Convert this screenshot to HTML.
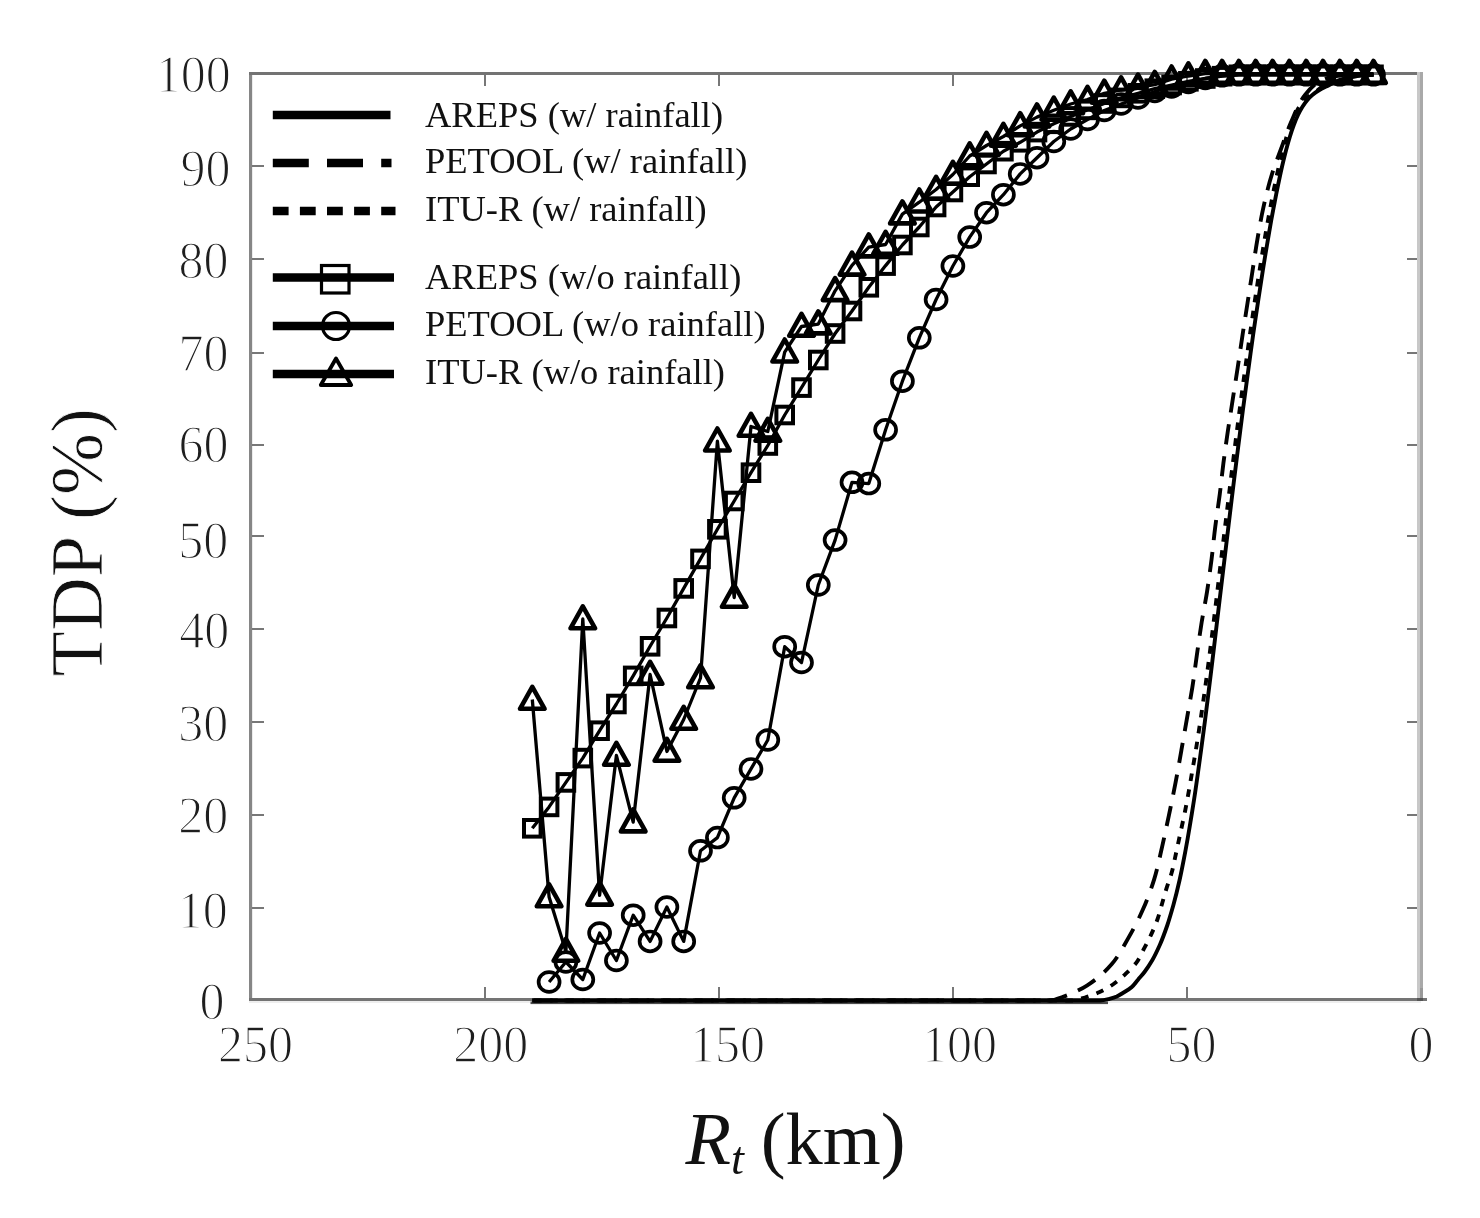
<!DOCTYPE html>
<html><head><meta charset="utf-8"><title>TDP vs Rt</title>
<style>html,body{margin:0;padding:0;background:#fff;}svg{display:block;filter:grayscale(1);}text{font-family:"Liberation Serif",serif;}</style>
</head><body>
<svg width="1480" height="1218" viewBox="0 0 1480 1218">
<rect x="0" y="0" width="1480" height="1218" fill="#fff"/>
<g shape-rendering="crispEdges">
<rect x="249" y="72" width="3" height="929" fill="#868686"/>
<rect x="252" y="75" width="1" height="923" fill="#ececec"/>
<rect x="249" y="72" width="1174" height="3" fill="#737373"/>
<rect x="249" y="998" width="1178" height="3" fill="#747474"/>
<rect x="249" y="1001" width="1172" height="2" fill="#eeeeee"/>
<rect x="1417" y="72" width="3" height="926" fill="#c8c8c8"/>
<rect x="1420" y="72" width="3" height="926" fill="#a9a9a9"/>
<rect x="1420" y="988" width="3" height="10" fill="#999"/>
<rect x="1417" y="998" width="6" height="3" fill="#555"/>
<rect x="252" y="907" width="12" height="2" fill="#777"/>
<rect x="1407" y="907" width="10" height="2" fill="#777"/>
<rect x="252" y="814" width="12" height="2" fill="#777"/>
<rect x="1407" y="814" width="10" height="2" fill="#777"/>
<rect x="252" y="721" width="12" height="2" fill="#777"/>
<rect x="1407" y="721" width="10" height="2" fill="#777"/>
<rect x="252" y="628" width="12" height="2" fill="#777"/>
<rect x="1407" y="628" width="10" height="2" fill="#777"/>
<rect x="252" y="535" width="12" height="2" fill="#777"/>
<rect x="1407" y="535" width="10" height="2" fill="#777"/>
<rect x="252" y="444" width="12" height="2" fill="#777"/>
<rect x="1407" y="444" width="10" height="2" fill="#777"/>
<rect x="252" y="352" width="12" height="2" fill="#777"/>
<rect x="1407" y="352" width="10" height="2" fill="#777"/>
<rect x="252" y="258" width="12" height="2" fill="#777"/>
<rect x="1407" y="258" width="10" height="2" fill="#777"/>
<rect x="252" y="165" width="12" height="2" fill="#777"/>
<rect x="1407" y="165" width="10" height="2" fill="#777"/>
<rect x="484" y="987" width="2" height="11" fill="#777"/>
<rect x="484" y="75" width="2" height="11" fill="#777"/>
<rect x="718" y="987" width="2" height="11" fill="#777"/>
<rect x="718" y="75" width="2" height="11" fill="#777"/>
<rect x="952" y="987" width="2" height="11" fill="#777"/>
<rect x="952" y="75" width="2" height="11" fill="#777"/>
<rect x="1186" y="987" width="2" height="11" fill="#777"/>
<rect x="1186" y="75" width="2" height="11" fill="#777"/>
</g>
<g fill="#1e1e1e" font-size="50" text-anchor="end" stroke="#fff" stroke-width="1.3">
<text transform="translate(224.6,1018.5) scale(1,1.070)">0</text>
<text transform="translate(227.8,928.1) scale(1,1.070)">10</text>
<text transform="translate(228.3,832.6) scale(1,1.070)">20</text>
<text transform="translate(228.2,741.2) scale(1,1.070)">30</text>
<text transform="translate(229.2,648.4) scale(1,1.070)">40</text>
<text transform="translate(228.2,557.6) scale(1,1.070)">50</text>
<text transform="translate(228.4,462.1) scale(1,1.070)">60</text>
<text transform="translate(228.4,371.3) scale(1,1.070)">70</text>
<text transform="translate(228.4,278.4) scale(1,1.070)">80</text>
<text transform="translate(230.6,185.5) scale(1,1.070)">90</text>
<text transform="translate(230.8,92.3) scale(1,1.070)">100</text>
</g>
<g fill="#1e1e1e" font-size="50" text-anchor="middle" stroke="#fff" stroke-width="1.3">
<text transform="translate(255.5,1062.4) scale(1,1.070)">250</text>
<text transform="translate(490.7,1062.4) scale(1,1.070)">200</text>
<text transform="translate(727.5,1062.4) scale(1,1.070)">150</text>
<text transform="translate(959.5,1062.4) scale(1,1.070)">100</text>
<text transform="translate(1191.5,1062.4) scale(1,1.070)">50</text>
<text transform="translate(1421.0,1062.4) scale(1,1.070)">0</text>
</g>
<text fill="#111" stroke="#fff" stroke-width="0.8" font-size="74.5" transform="translate(102.4,676.5) rotate(-90)">TDP (%)</text>
<text fill="#111" font-size="74.5" x="685.5" y="1164" font-style="italic">R</text>
<text fill="#111" font-size="46.5" x="731" y="1174" font-style="italic">t</text>
<text fill="#111" font-size="74.5" x="760.7" y="1164">(km)</text>
<rect x="530.5" y="1001.5" width="577.5" height="2.6" fill="#4d4d4d"/>
<g fill="none" stroke="#000" stroke-width="3.9" stroke-linejoin="round">
<path d="M532.3,1000.5 L1100.0,1000.5 C1103.0,1000.5 1106.1,999.7 1109.0,999.0 C1111.6,998.3 1114.3,997.6 1116.8,996.5 C1118.9,995.5 1120.8,994.2 1122.8,993.0 C1125.9,991.1 1129.2,989.4 1131.8,987.0 C1134.1,985.0 1135.8,982.3 1137.8,980.0 C1140.0,977.3 1142.4,974.8 1144.5,972.0 C1147.4,968.2 1150.0,964.1 1152.4,960.0 C1155.2,955.2 1157.5,950.1 1159.8,945.0 C1162.7,938.5 1165.1,931.7 1167.4,925.0 C1169.6,918.4 1171.5,911.7 1173.4,905.0 C1175.7,896.7 1177.7,888.4 1179.6,880.0 C1181.8,870.1 1183.7,860.0 1185.6,850.0 C1188.7,833.4 1191.4,816.7 1194.0,800.0 C1196.6,783.4 1198.8,766.7 1201.1,750.0 C1203.4,733.3 1205.5,716.7 1207.6,700.0 C1209.7,683.3 1211.7,666.7 1213.7,650.0 C1215.7,633.3 1217.6,616.7 1219.6,600.0 C1221.6,583.3 1223.6,566.7 1225.6,550.0 C1227.6,533.3 1229.6,516.7 1231.6,500.0 C1233.6,483.3 1235.7,466.7 1237.8,450.0 C1239.5,436.7 1241.2,423.3 1242.9,410.0 C1244.7,396.7 1246.5,383.3 1248.3,370.0 C1249.9,358.3 1251.4,346.7 1253.1,335.0 C1254.8,323.3 1256.5,311.7 1258.3,300.0 C1259.8,290.0 1261.3,280.0 1262.9,270.0 C1264.2,261.7 1265.6,253.3 1267.0,245.0 C1268.4,236.7 1269.8,228.3 1271.3,220.0 C1272.5,213.3 1273.8,206.7 1275.1,200.0 C1276.3,194.0 1277.4,188.0 1278.7,182.0 C1279.9,176.3 1281.1,170.6 1282.4,165.0 C1283.6,160.0 1284.8,155.0 1286.1,150.0 C1287.3,145.6 1288.5,141.3 1289.8,137.0 C1291.0,133.0 1292.3,128.9 1293.8,125.0 C1295.1,121.6 1296.4,118.3 1298.0,115.0 C1299.3,112.3 1300.7,109.6 1302.3,107.0 C1303.8,104.6 1305.5,102.2 1307.4,100.0 C1308.9,98.2 1310.5,96.5 1312.3,95.0 C1314.5,93.1 1316.9,91.5 1319.4,90.0 C1321.6,88.7 1323.9,87.7 1326.2,86.6 C1330.2,84.6 1333.9,82.1 1338.0,80.5 C1343.4,78.4 1349.3,77.4 1355.0,76.5 C1361.1,75.5 1367.3,75.4 1373.5,74.8"/>
<path d="M532.3,1000.5 L1050.0,1000.5 C1054.3,1000.5 1058.8,998.3 1063.0,996.8 C1071.4,993.9 1079.8,990.1 1087.3,985.3 C1096.3,979.6 1104.7,972.3 1111.6,964.3 C1118.5,956.3 1123.4,946.6 1128.7,937.4 C1133.9,928.2 1138.9,918.8 1143.1,909.1 C1147.4,899.3 1151.2,889.1 1154.3,878.9 C1157.6,868.2 1159.7,857.2 1162.2,846.3 C1164.6,836.0 1166.7,825.6 1168.9,815.3 C1171.2,804.5 1173.4,793.7 1175.5,782.8 C1177.6,772.0 1179.5,761.1 1181.4,750.2 C1183.2,739.9 1185.0,729.7 1186.8,719.4 C1188.6,708.8 1190.6,698.2 1192.3,687.6 C1194.0,676.9 1195.3,666.2 1196.8,655.5 C1198.4,644.3 1199.9,633.1 1201.7,622.0 C1203.4,611.8 1205.5,601.6 1207.1,591.4 C1208.8,580.6 1210.2,569.7 1211.6,558.9 C1213.0,548.1 1213.9,537.2 1215.3,526.4 C1216.7,515.6 1218.4,504.8 1219.8,494.0 C1221.1,483.8 1222.1,473.5 1223.4,463.3 C1224.8,452.5 1226.3,441.6 1227.9,430.8 C1229.5,420.2 1231.2,409.6 1232.8,399.0 C1234.4,388.5 1236.1,378.0 1237.7,367.5 C1239.4,356.3 1241.0,345.2 1242.7,334.0 C1244.3,323.5 1246.0,313.0 1247.6,302.5 C1249.2,292.0 1250.9,281.5 1252.5,271.0 C1254.1,260.5 1255.6,249.9 1257.4,239.4 C1259.2,228.9 1261.0,218.3 1263.3,207.9 C1265.8,196.5 1268.5,185.1 1272.0,174.0 C1274.7,165.6 1277.9,157.3 1281.0,149.0 C1284.3,140.1 1287.2,131.1 1291.0,122.4 C1295.1,113.0 1298.6,102.9 1305.0,95.0 C1309.2,89.8 1314.2,84.2 1320.0,81.0 C1325.9,77.7 1333.2,76.7 1340.0,75.5 C1350.9,73.6 1362.3,75.0 1373.5,74.8" stroke-dasharray="20.3 11.9"/>
<path d="M532.3,1000.5 L1072.0,1000.5 C1076.3,1000.5 1080.7,998.8 1085.0,997.5 C1089.8,996.1 1094.6,994.4 1099.1,992.3 C1104.1,990.0 1109.1,987.2 1113.6,984.0 C1117.8,981.1 1121.7,977.6 1125.4,974.1 C1129.3,970.4 1133.4,966.6 1136.6,962.3 C1139.8,957.9 1141.9,952.7 1144.4,947.9 C1146.9,943.1 1149.5,938.3 1151.7,933.4 C1153.8,928.7 1155.9,923.9 1157.6,919.0 C1159.4,913.8 1160.7,908.5 1162.2,903.2 C1163.7,897.9 1165.2,892.6 1166.8,887.4 C1168.4,882.3 1170.4,877.4 1171.8,872.3 C1173.2,867.1 1174.2,861.8 1175.3,856.6 C1176.4,851.5 1177.5,846.4 1178.6,841.3 C1180.8,830.9 1183.2,820.5 1185.3,810.0 C1187.9,797.0 1190.1,783.9 1192.3,770.8 C1194.8,756.6 1197.2,742.4 1199.3,728.1 C1201.5,713.9 1203.5,699.6 1205.5,685.4 C1207.4,671.2 1209.3,656.9 1211.1,642.7 C1213.6,622.6 1216.0,602.5 1218.4,582.4 C1220.6,564.3 1222.7,546.3 1224.9,528.2 C1227.1,510.2 1229.3,492.1 1231.5,474.1 C1233.7,456.7 1235.8,439.2 1238.1,421.8 C1240.0,407.0 1242.0,392.1 1244.0,377.3 C1246.7,357.6 1249.4,337.9 1252.3,318.2 C1254.7,301.8 1257.1,285.4 1259.8,269.0 C1261.9,255.9 1264.0,242.7 1266.3,229.6 C1268.0,220.4 1269.6,211.2 1271.4,202.0 C1273.2,193.0 1274.9,184.0 1276.9,175.0 C1279.1,165.1 1281.3,155.1 1284.1,145.4 C1286.3,137.7 1288.4,129.8 1291.6,122.4 C1294.8,115.0 1298.1,107.0 1303.4,101.0 C1308.0,95.8 1315.1,92.8 1320.4,88.0 C1323.0,85.6 1325.1,82.4 1328.0,80.5 C1332.2,77.7 1337.9,77.1 1343.0,76.0 C1352.9,73.9 1363.3,75.2 1373.5,74.8" stroke-dasharray="7.6 8.5" stroke-dashoffset="-1.7"/>
</g>
<g fill="none" stroke="#000" stroke-width="3.3" stroke-linejoin="round">
<polyline points="532.3,828.3 549.1,806.9 565.9,782.4 582.8,758.1 599.6,730.7 616.4,704.0 633.2,675.9 650.1,646.3 666.9,618.0 683.7,588.4 700.5,558.9 717.4,529.3 734.2,501.0 751.0,472.7 767.8,445.5 784.7,415.0 801.5,387.6 818.3,360.0 835.1,333.5 852.0,311.0 868.8,287.3 885.6,265.6 902.4,245.0 919.3,227.0 936.1,207.0 952.9,192.0 969.7,176.7 986.5,164.0 1003.4,151.2 1020.2,142.3 1037.0,132.1 1053.8,123.8 1070.7,116.4 1087.5,109.9 1104.3,103.5 1121.1,97.9 1138.0,93.3 1154.8,88.7 1171.6,85.0 1188.4,81.3 1205.3,78.5 1222.1,76.2 1238.9,74.8 1255.7,74.8 1272.6,74.8 1289.4,74.8 1306.2,74.8 1323.0,74.8 1339.9,74.8 1356.7,74.8 1373.5,74.8"/>
<polyline points="549.1,982.0 565.9,962.0 582.8,979.5 599.6,933.0 616.4,960.5 633.2,915.2 650.1,941.4 666.9,907.0 683.7,941.4 700.5,850.8 717.4,837.6 734.2,797.8 751.0,768.9 767.8,740.0 784.7,646.7 801.5,662.5 818.3,585.0 835.1,540.1 852.0,482.3 868.8,483.6 885.6,429.8 902.4,381.2 919.3,337.8 936.1,299.5 952.9,266.0 969.7,237.1 986.5,212.7 1003.4,194.7 1020.2,173.9 1037.0,157.7 1053.8,141.5 1070.7,129.0 1087.5,119.5 1104.3,110.5 1121.1,104.0 1138.0,98.0 1154.8,91.5 1171.6,87.0 1188.4,82.5 1205.3,78.5 1222.1,75.8 1238.9,74.8 1255.7,74.8 1272.6,74.8 1289.4,74.8 1306.2,74.8 1323.0,74.8 1339.9,74.8 1356.7,74.8 1373.5,74.8"/>
<polyline points="532.3,699.5 549.1,897.0 565.9,951.5 582.8,619.0 599.6,895.3 616.4,755.5 633.2,822.1 650.1,674.5 666.9,751.5 683.7,719.5 700.5,678.0 717.4,441.2 734.2,597.5 751.0,426.5 767.8,431.5 784.7,352.2 801.5,326.5 818.3,324.1 835.1,290.8 852.0,265.3 868.8,247.1 885.6,244.5 902.4,214.1 919.3,202.2 936.1,189.5 952.9,174.5 969.7,156.0 986.5,145.5 1003.4,136.5 1020.2,125.9 1037.0,117.1 1053.8,110.3 1070.7,104.0 1087.5,99.5 1104.3,93.4 1121.1,90.0 1138.0,87.3 1154.8,84.6 1171.6,79.2 1188.4,76.0 1205.3,73.6 1222.1,73.6 1238.9,73.6 1255.7,73.6 1272.6,73.6 1289.4,73.6 1306.2,73.6 1323.0,73.6 1339.9,73.6 1356.7,73.6 1373.5,73.6"/>
</g>
<g fill="none" stroke="#000" stroke-width="4.0">
<rect x="524.0" y="820.0" width="16.6" height="16.6"/>
<rect x="540.8" y="798.6" width="16.6" height="16.6"/>
<rect x="557.6" y="774.1" width="16.6" height="16.6"/>
<rect x="574.5" y="749.8" width="16.6" height="16.6"/>
<rect x="591.3" y="722.4" width="16.6" height="16.6"/>
<rect x="608.1" y="695.7" width="16.6" height="16.6"/>
<rect x="624.9" y="667.6" width="16.6" height="16.6"/>
<rect x="641.8" y="638.0" width="16.6" height="16.6"/>
<rect x="658.6" y="609.7" width="16.6" height="16.6"/>
<rect x="675.4" y="580.1" width="16.6" height="16.6"/>
<rect x="692.2" y="550.6" width="16.6" height="16.6"/>
<rect x="709.1" y="521.0" width="16.6" height="16.6"/>
<rect x="725.9" y="492.7" width="16.6" height="16.6"/>
<rect x="742.7" y="464.4" width="16.6" height="16.6"/>
<rect x="759.5" y="437.2" width="16.6" height="16.6"/>
<rect x="776.4" y="406.7" width="16.6" height="16.6"/>
<rect x="793.2" y="379.3" width="16.6" height="16.6"/>
<rect x="810.0" y="351.7" width="16.6" height="16.6"/>
<rect x="826.8" y="325.2" width="16.6" height="16.6"/>
<rect x="843.7" y="302.7" width="16.6" height="16.6"/>
<rect x="860.5" y="279.0" width="16.6" height="16.6"/>
<rect x="877.3" y="257.3" width="16.6" height="16.6"/>
<rect x="894.1" y="236.7" width="16.6" height="16.6"/>
<rect x="911.0" y="218.7" width="16.6" height="16.6"/>
<rect x="927.8" y="198.7" width="16.6" height="16.6"/>
<rect x="944.6" y="183.7" width="16.6" height="16.6"/>
<rect x="961.4" y="168.4" width="16.6" height="16.6"/>
<rect x="978.2" y="155.7" width="16.6" height="16.6"/>
<rect x="995.1" y="142.9" width="16.6" height="16.6"/>
<rect x="1011.9" y="134.0" width="16.6" height="16.6"/>
<rect x="1028.7" y="123.8" width="16.6" height="16.6"/>
<rect x="1045.5" y="115.5" width="16.6" height="16.6"/>
<rect x="1062.4" y="108.1" width="16.6" height="16.6"/>
<rect x="1079.2" y="101.6" width="16.6" height="16.6"/>
<rect x="1096.0" y="95.2" width="16.6" height="16.6"/>
<rect x="1112.8" y="89.6" width="16.6" height="16.6"/>
<rect x="1129.7" y="85.0" width="16.6" height="16.6"/>
<rect x="1146.5" y="80.4" width="16.6" height="16.6"/>
<rect x="1163.3" y="76.7" width="16.6" height="16.6"/>
<rect x="1180.1" y="73.0" width="16.6" height="16.6"/>
<rect x="1197.0" y="70.2" width="16.6" height="16.6"/>
<rect x="1213.8" y="67.9" width="16.6" height="16.6"/>
<rect x="1230.6" y="66.5" width="16.6" height="16.6"/>
<rect x="1247.4" y="66.5" width="16.6" height="16.6"/>
<rect x="1264.3" y="66.5" width="16.6" height="16.6"/>
<rect x="1281.1" y="66.5" width="16.6" height="16.6"/>
<rect x="1297.9" y="66.5" width="16.6" height="16.6"/>
<rect x="1314.7" y="66.5" width="16.6" height="16.6"/>
<rect x="1331.6" y="66.5" width="16.6" height="16.6"/>
<rect x="1348.4" y="66.5" width="16.6" height="16.6"/>
<rect x="1365.2" y="66.5" width="16.6" height="16.6"/>
</g>
<g fill="none" stroke="#000" stroke-width="3.7">
<ellipse cx="549.1" cy="982.0" rx="10.5" ry="9.9"/>
<ellipse cx="565.9" cy="962.0" rx="10.5" ry="9.9"/>
<ellipse cx="582.8" cy="979.5" rx="10.5" ry="9.9"/>
<ellipse cx="599.6" cy="933.0" rx="10.5" ry="9.9"/>
<ellipse cx="616.4" cy="960.5" rx="10.5" ry="9.9"/>
<ellipse cx="633.2" cy="915.2" rx="10.5" ry="9.9"/>
<ellipse cx="650.1" cy="941.4" rx="10.5" ry="9.9"/>
<ellipse cx="666.9" cy="907.0" rx="10.5" ry="9.9"/>
<ellipse cx="683.7" cy="941.4" rx="10.5" ry="9.9"/>
<ellipse cx="700.5" cy="850.8" rx="10.5" ry="9.9"/>
<ellipse cx="717.4" cy="837.6" rx="10.5" ry="9.9"/>
<ellipse cx="734.2" cy="797.8" rx="10.5" ry="9.9"/>
<ellipse cx="751.0" cy="768.9" rx="10.5" ry="9.9"/>
<ellipse cx="767.8" cy="740.0" rx="10.5" ry="9.9"/>
<ellipse cx="784.7" cy="646.7" rx="10.5" ry="9.9"/>
<ellipse cx="801.5" cy="662.5" rx="10.5" ry="9.9"/>
<ellipse cx="818.3" cy="585.0" rx="10.5" ry="9.9"/>
<ellipse cx="835.1" cy="540.1" rx="10.5" ry="9.9"/>
<ellipse cx="852.0" cy="482.3" rx="10.5" ry="9.9"/>
<ellipse cx="868.8" cy="483.6" rx="10.5" ry="9.9"/>
<ellipse cx="885.6" cy="429.8" rx="10.5" ry="9.9"/>
<ellipse cx="902.4" cy="381.2" rx="10.5" ry="9.9"/>
<ellipse cx="919.3" cy="337.8" rx="10.5" ry="9.9"/>
<ellipse cx="936.1" cy="299.5" rx="10.5" ry="9.9"/>
<ellipse cx="952.9" cy="266.0" rx="10.5" ry="9.9"/>
<ellipse cx="969.7" cy="237.1" rx="10.5" ry="9.9"/>
<ellipse cx="986.5" cy="212.7" rx="10.5" ry="9.9"/>
<ellipse cx="1003.4" cy="194.7" rx="10.5" ry="9.9"/>
<ellipse cx="1020.2" cy="173.9" rx="10.5" ry="9.9"/>
<ellipse cx="1037.0" cy="157.7" rx="10.5" ry="9.9"/>
<ellipse cx="1053.8" cy="141.5" rx="10.5" ry="9.9"/>
<ellipse cx="1070.7" cy="129.0" rx="10.5" ry="9.9"/>
<ellipse cx="1087.5" cy="119.5" rx="10.5" ry="9.9"/>
<ellipse cx="1104.3" cy="110.5" rx="10.5" ry="9.9"/>
<ellipse cx="1121.1" cy="104.0" rx="10.5" ry="9.9"/>
<ellipse cx="1138.0" cy="98.0" rx="10.5" ry="9.9"/>
<ellipse cx="1154.8" cy="91.5" rx="10.5" ry="9.9"/>
<ellipse cx="1171.6" cy="87.0" rx="10.5" ry="9.9"/>
<ellipse cx="1188.4" cy="82.5" rx="10.5" ry="9.9"/>
<ellipse cx="1205.3" cy="78.5" rx="10.5" ry="9.9"/>
<ellipse cx="1222.1" cy="75.8" rx="10.5" ry="9.9"/>
<ellipse cx="1238.9" cy="74.8" rx="10.5" ry="9.9"/>
<ellipse cx="1255.7" cy="74.8" rx="10.5" ry="9.9"/>
<ellipse cx="1272.6" cy="74.8" rx="10.5" ry="9.9"/>
<ellipse cx="1289.4" cy="74.8" rx="10.5" ry="9.9"/>
<ellipse cx="1306.2" cy="74.8" rx="10.5" ry="9.9"/>
<ellipse cx="1323.0" cy="74.8" rx="10.5" ry="9.9"/>
<ellipse cx="1339.9" cy="74.8" rx="10.5" ry="9.9"/>
<ellipse cx="1356.7" cy="74.8" rx="10.5" ry="9.9"/>
<ellipse cx="1373.5" cy="74.8" rx="10.5" ry="9.9"/>
</g>
<g fill="none" stroke="#000" stroke-width="4.6" stroke-linejoin="round">
<path d="M532.3,686.8 L544.6,708.8 L520.0,708.8 Z"/>
<path d="M549.1,884.3 L561.4,906.3 L536.8,906.3 Z"/>
<path d="M565.9,938.8 L578.2,960.8 L553.6,960.8 Z"/>
<path d="M582.8,606.3 L595.1,628.3 L570.5,628.3 Z"/>
<path d="M599.6,882.6 L611.9,904.6 L587.3,904.6 Z"/>
<path d="M616.4,742.8 L628.7,764.8 L604.1,764.8 Z"/>
<path d="M633.2,809.4 L645.5,831.4 L620.9,831.4 Z"/>
<path d="M650.1,661.8 L662.4,683.8 L637.8,683.8 Z"/>
<path d="M666.9,738.8 L679.2,760.8 L654.6,760.8 Z"/>
<path d="M683.7,706.8 L696.0,728.8 L671.4,728.8 Z"/>
<path d="M700.5,665.3 L712.8,687.3 L688.2,687.3 Z"/>
<path d="M717.4,428.5 L729.7,450.5 L705.1,450.5 Z"/>
<path d="M734.2,584.8 L746.5,606.8 L721.9,606.8 Z"/>
<path d="M751.0,413.8 L763.3,435.8 L738.7,435.8 Z"/>
<path d="M767.8,418.8 L780.1,440.8 L755.5,440.8 Z"/>
<path d="M784.7,339.5 L797.0,361.5 L772.4,361.5 Z"/>
<path d="M801.5,313.8 L813.8,335.8 L789.2,335.8 Z"/>
<path d="M818.3,311.4 L830.6,333.4 L806.0,333.4 Z"/>
<path d="M835.1,278.1 L847.4,300.1 L822.8,300.1 Z"/>
<path d="M852.0,252.6 L864.3,274.6 L839.7,274.6 Z"/>
<path d="M868.8,234.4 L881.1,256.4 L856.5,256.4 Z"/>
<path d="M885.6,231.8 L897.9,253.8 L873.3,253.8 Z"/>
<path d="M902.4,201.4 L914.7,223.4 L890.1,223.4 Z"/>
<path d="M919.3,189.5 L931.6,211.5 L907.0,211.5 Z"/>
<path d="M936.1,176.8 L948.4,198.8 L923.8,198.8 Z"/>
<path d="M952.9,161.8 L965.2,183.8 L940.6,183.8 Z"/>
<path d="M969.7,143.3 L982.0,165.3 L957.4,165.3 Z"/>
<path d="M986.5,132.8 L998.8,154.8 L974.2,154.8 Z"/>
<path d="M1003.4,123.8 L1015.7,145.8 L991.1,145.8 Z"/>
<path d="M1020.2,113.2 L1032.5,135.2 L1007.9,135.2 Z"/>
<path d="M1037.0,104.4 L1049.3,126.4 L1024.7,126.4 Z"/>
<path d="M1053.8,97.6 L1066.1,119.6 L1041.5,119.6 Z"/>
<path d="M1070.7,91.3 L1083.0,113.3 L1058.4,113.3 Z"/>
<path d="M1087.5,86.8 L1099.8,108.8 L1075.2,108.8 Z"/>
<path d="M1104.3,80.7 L1116.6,102.7 L1092.0,102.7 Z"/>
<path d="M1121.1,77.3 L1133.4,99.3 L1108.8,99.3 Z"/>
<path d="M1138.0,74.6 L1150.3,96.6 L1125.7,96.6 Z"/>
<path d="M1154.8,71.9 L1167.1,93.9 L1142.5,93.9 Z"/>
<path d="M1171.6,66.5 L1183.9,88.5 L1159.3,88.5 Z"/>
<path d="M1188.4,63.3 L1200.7,85.3 L1176.1,85.3 Z"/>
<path d="M1205.3,60.9 L1217.6,82.9 L1193.0,82.9 Z"/>
<path d="M1222.1,60.9 L1234.4,82.9 L1209.8,82.9 Z"/>
<path d="M1238.9,60.9 L1251.2,82.9 L1226.6,82.9 Z"/>
<path d="M1255.7,60.9 L1268.0,82.9 L1243.4,82.9 Z"/>
<path d="M1272.6,60.9 L1284.9,82.9 L1260.3,82.9 Z"/>
<path d="M1289.4,60.9 L1301.7,82.9 L1277.1,82.9 Z"/>
<path d="M1306.2,60.9 L1318.5,82.9 L1293.9,82.9 Z"/>
<path d="M1323.0,60.9 L1335.3,82.9 L1310.7,82.9 Z"/>
<path d="M1339.9,60.9 L1352.2,82.9 L1327.6,82.9 Z"/>
<path d="M1356.7,60.9 L1369.0,82.9 L1344.4,82.9 Z"/>
<path d="M1373.5,60.9 L1385.8,82.9 L1361.2,82.9 Z"/>
</g>
<g fill="none" stroke="#000" stroke-width="8.6">
<line x1="272.8" y1="115.0" x2="390.5" y2="115.0"/>
<line x1="272.8" y1="163.0" x2="391.5" y2="163.0" stroke-dasharray="36 18.2"/>
<line x1="272.8" y1="211.0" x2="395.5" y2="211.0" stroke-dasharray="15.8 11.3"/>
<line x1="272.8" y1="277.5" x2="394.0" y2="277.5"/>
<line x1="272.8" y1="326.0" x2="394.0" y2="326.0"/>
<line x1="272.8" y1="374.0" x2="394.0" y2="374.0"/>
</g>
<g fill="none" stroke="#000" stroke-width="3.2">
<rect x="321.5" y="265.5" width="27.5" height="27.5"/>
<circle cx="336" cy="326" r="13.5"/>
<path d="M336,358.5 L351.2,385 L320.8,385 Z" stroke-width="3.8" stroke-linejoin="round"/>
</g>
<g fill="#111" font-size="36.5">
<text x="425" y="126.5">AREPS (w/ rainfall)</text>
<text x="425" y="172.7">PETOOL (w/ rainfall)</text>
<text x="425" y="221.4">ITU-R (w/ rainfall)</text>
<text x="425" y="288.9">AREPS (w/o rainfall)</text>
<text x="425" y="336.4">PETOOL (w/o rainfall)</text>
<text x="425" y="383.8">ITU-R (w/o rainfall)</text>
</g>
</svg>
</body></html>
